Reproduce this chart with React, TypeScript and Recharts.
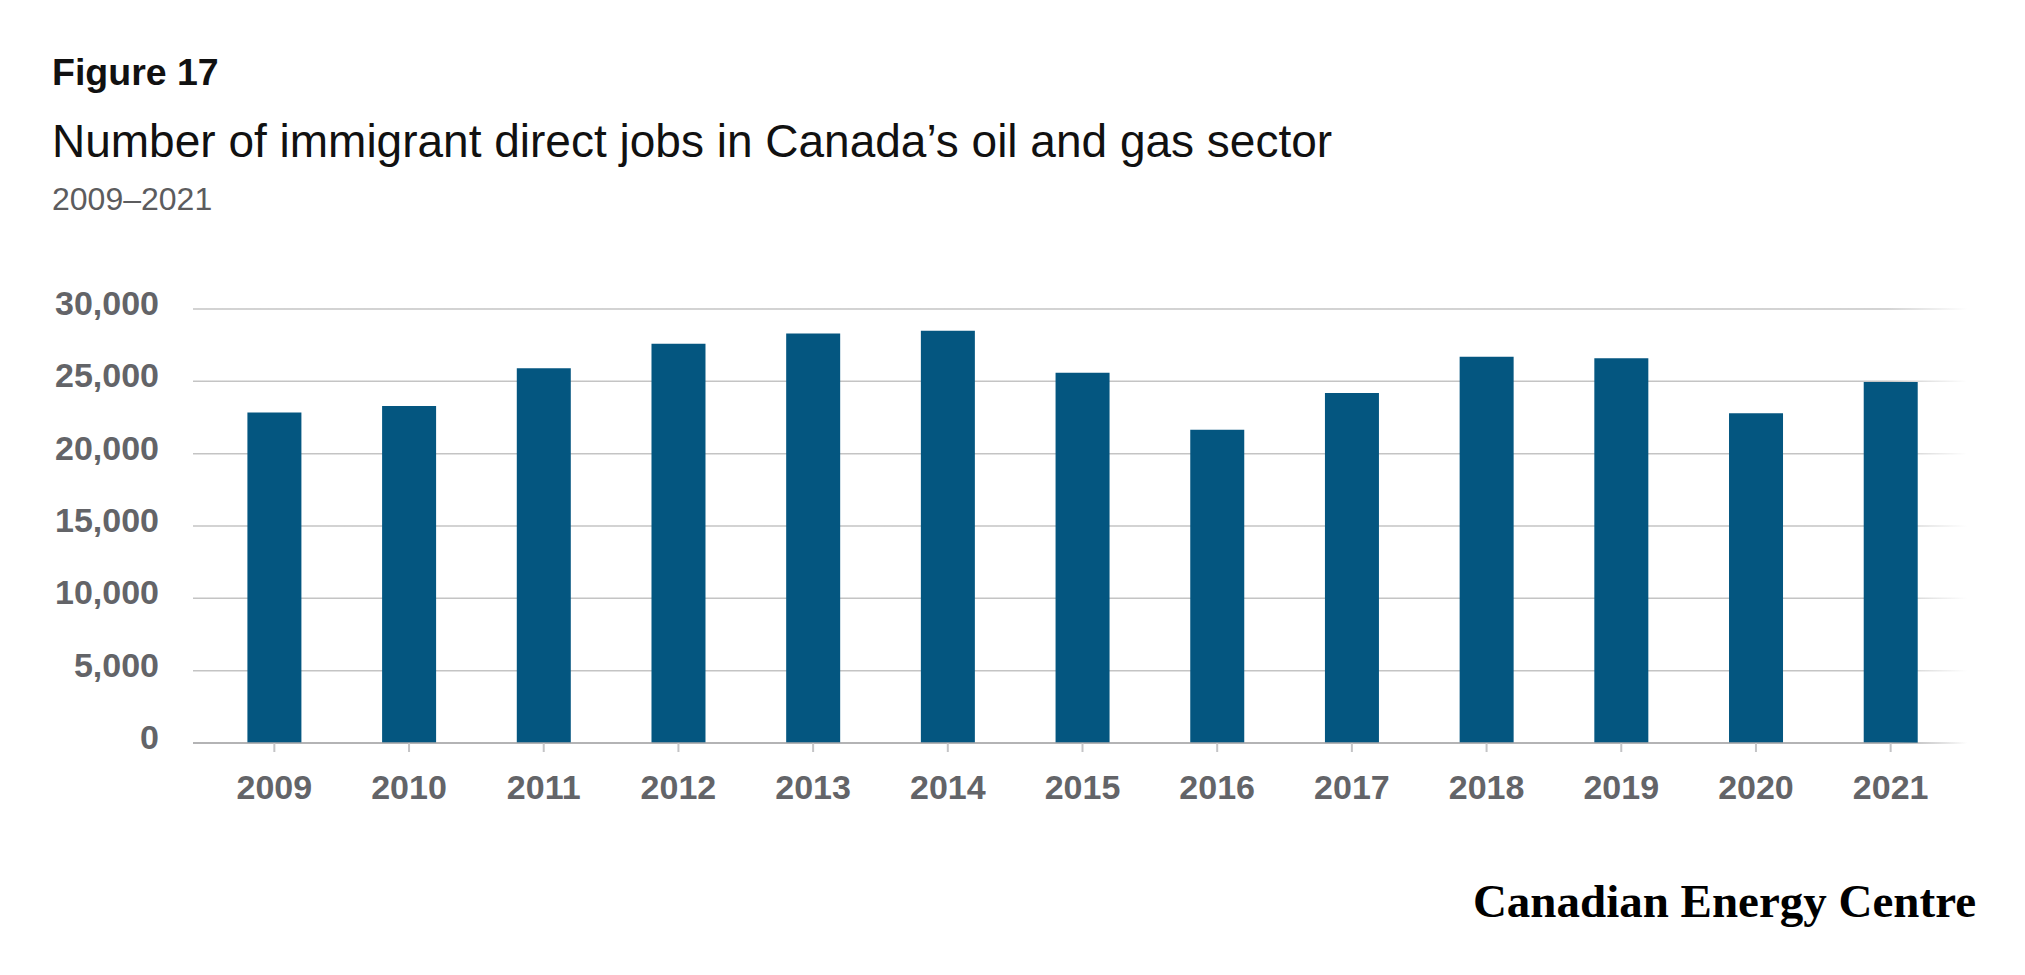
import React from 'react';
import { BarChart, Bar, XAxis, YAxis, CartesianGrid } from 'recharts';

const years = ['2009', '2010', '2011', '2012', '2013', '2014', '2015', '2016', '2017', '2018', '2019', '2020', '2021'];
const jobs = [22850, 23300, 25900, 27600, 28300, 28500, 25600, 21650, 24200, 26700, 26600, 22800, 24950];
const yTicks = [0, 5000, 10000, 15000, 20000, 25000, 30000];

const data = years.map((year, i) => ({ year, jobs: jobs[i] }));

const FONT = '"Liberation Sans", Arial, Helvetica, sans-serif';
const SERIF = '"Liberation Serif", "Times New Roman", serif';
const LABEL_GRAY = '#636468';

function YTick(props: any) {
  const { x, y, payload } = props;
  return (
    <text x={x} y={y + 6} textAnchor="end" fill={LABEL_GRAY} fontSize={34} fontWeight={700} fontFamily={FONT}>
      {Number(payload.value).toLocaleString('en-US')}
    </text>
  );
}

function XTick(props: any) {
  const { x, y, payload } = props;
  return (
    <text x={x} y={y + 24} textAnchor="middle" fill={LABEL_GRAY} fontSize={34} fontWeight={700} fontFamily={FONT}>
      {payload.value}
    </text>
  );
}

export default function App() {
  return (
    <div style={{ position: 'absolute', left: 0, top: 0, width: 2025, height: 975, background: '#ffffff', overflow: 'hidden' }}>
      <svg width={0} height={0} style={{ position: 'absolute' }}>
        <defs>
          <linearGradient id="gridFade" gradientUnits="userSpaceOnUse" x1={193} y1={0} x2={1967} y2={0}>
            <stop offset="0" stopColor="#c4c4c4" stopOpacity={1} />
            <stop offset="0.955" stopColor="#c4c4c4" stopOpacity={1} />
            <stop offset="1" stopColor="#c4c4c4" stopOpacity={0} />
          </linearGradient>
          <linearGradient id="axisFade" gradientUnits="userSpaceOnUse" x1={193} y1={0} x2={1967} y2={0}>
            <stop offset="0" stopColor="#a9a9ab" stopOpacity={1} />
            <stop offset="0.955" stopColor="#a9a9ab" stopOpacity={1} />
            <stop offset="1" stopColor="#a9a9ab" stopOpacity={0} />
          </linearGradient>
        </defs>
      </svg>
      <div style={{ position: 'absolute', left: 0, top: 0 }}>
        <BarChart width={2025} height={975} data={data} margin={{ top: 309, right: 58, bottom: 0, left: 0 }} barCategoryGap="30%">
          <CartesianGrid vertical={false} stroke="url(#gridFade)" strokeWidth={1.5} />
          <YAxis
            width={193}
            domain={[0, 30000]}
            ticks={yTicks}
            interval={0}
            axisLine={false}
            tickLine={false}
            tickSize={0}
            tickMargin={34}
            tick={<YTick />}
          />
          <XAxis
            dataKey="year"
            height={232}
            interval={0}
            padding={{ left: 14, right: 9 }}
            axisLine={{ stroke: 'url(#axisFade)', strokeWidth: 1.6 }}
            tickLine={{ stroke: '#c4c4c6', strokeWidth: 2 }}
            tickSize={9}
            tickMargin={23}
            tick={<XTick />}
          />
          <Bar dataKey="jobs" fill="#045680" isAnimationActive={false} />
        </BarChart>
      </div>
      <svg width={2025} height={975} style={{ position: 'absolute', left: 0, top: 0, pointerEvents: 'none' }}>
        <text x={52} y={85} fontFamily={FONT} fontWeight={700} fontSize={37.5} fill="#111111">
          Figure 17
        </text>
        <text x={52} y={157} fontFamily={FONT} fontWeight={400} fontSize={46} fill="#111111">
          Number of immigrant direct jobs in Canada’s oil and gas sector
        </text>
        <text x={52} y={210} fontFamily={FONT} fontWeight={400} fontSize={32} fill="#5c5c5e">
          2009–2021
        </text>
        <text x={1976} y={917} textAnchor="end" fontFamily={SERIF} fontWeight={700} fontSize={47} fill="#000000">
          Canadian Energy Centre
        </text>
      </svg>
    </div>
  );
}
